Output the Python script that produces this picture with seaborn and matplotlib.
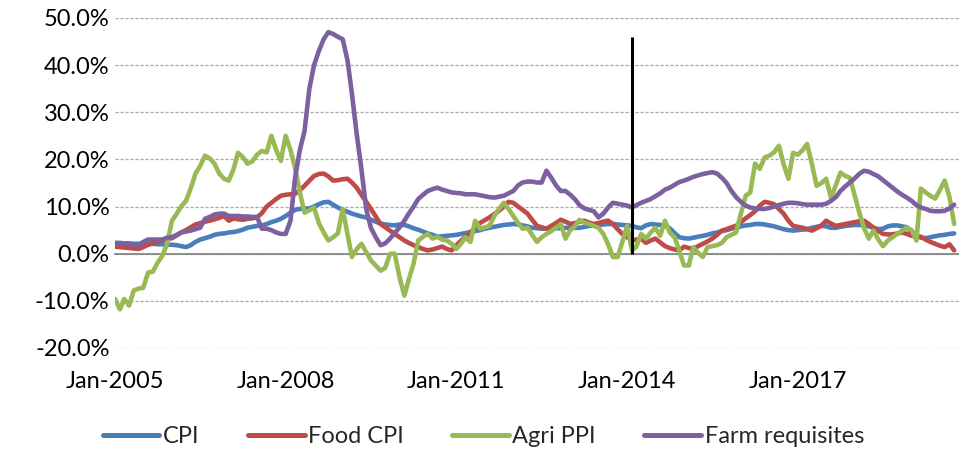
import matplotlib
matplotlib.use("Agg")
import matplotlib.pyplot as plt
import matplotlib.dates as mdates
from matplotlib.ticker import FuncFormatter, MultipleLocator
import pandas as pd
import seaborn as sns

# monthly inflation rates (%), Jan-2005 .. Oct-2019
start_month = "2005-01-01"

cpi = [
    2.3, 2.3, 2.2, 2.2, 2.1, 2.1, 2.0, 2.0, 2.1, 2.0, 2.0, 1.9,
    1.9, 1.8, 1.6, 1.4, 1.8, 2.5, 3.0, 3.3, 3.6, 4.0, 4.2, 4.3,
    4.5, 4.6, 4.8, 5.1, 5.5, 5.7, 5.9, 6.0, 6.3, 6.7, 7.0, 7.4,
    8.0, 8.7, 9.3, 9.5, 9.6, 9.6, 10.0, 10.5, 10.9, 11.0, 10.4, 9.8,
    9.3, 8.9, 8.5, 8.2, 7.9, 7.7, 7.2, 6.8, 6.4, 6.2, 6.1, 6.0,
    6.2, 6.1, 5.8, 5.4, 5.1, 4.7, 4.3, 4.0, 3.6, 3.7, 3.8, 3.9,
    4.0, 4.2, 4.4, 4.6, 4.8, 5.0, 5.3, 5.5, 5.7, 5.9, 6.1, 6.2,
    6.3, 6.2, 6.0, 5.8, 5.5, 5.4, 5.3, 5.3, 5.3, 5.4, 5.4, 5.5,
    5.5, 5.5, 5.5, 5.7, 5.9, 6.0, 6.1, 6.2, 6.3, 6.3, 6.2, 6.1,
    6.0, 5.9, 5.6, 5.4, 6.0, 6.3, 6.2, 6.1, 6.0, 5.4, 4.4, 3.5,
    3.3, 3.2, 3.4, 3.6, 3.8, 4.0, 4.3, 4.5, 4.8, 5.0, 5.3, 5.5,
    5.8, 6.0, 6.1, 6.3, 6.3, 6.2, 6.0, 5.8, 5.5, 5.2, 5.0, 4.9,
    5.0, 5.1, 5.2, 5.5, 5.7, 5.9, 5.8, 5.5, 5.5, 5.7, 5.9, 6.0,
    6.1, 6.1, 6.0, 5.8, 5.5, 5.2, 5.3, 5.8, 6.0, 6.0, 5.8, 5.6,
    4.6, 3.8, 3.4, 3.3, 3.5, 3.7, 3.9, 4.0, 4.2, 4.3,
]

food_cpi = [
    1.5, 1.4, 1.3, 1.2, 1.1, 1.0, 1.4, 1.9, 2.3, 2.6, 2.9, 3.1,
    3.3, 3.9, 4.5, 5.0, 5.6, 6.2, 6.5, 6.8, 7.0, 7.3, 7.6, 8.0,
    7.0, 7.5, 7.3, 7.2, 7.4, 7.5, 7.7, 8.6, 10.0, 10.8, 11.6, 12.3,
    12.5, 12.6, 12.7, 13.5, 14.4, 15.5, 16.5, 16.9, 17.0, 16.4, 15.5, 15.6,
    15.8, 15.9, 15.1, 14.0, 12.5, 11.0, 9.5, 7.9, 6.3, 5.6, 4.9, 4.2,
    3.5, 2.8, 2.3, 1.8, 1.4, 1.0, 0.7, 0.9, 1.2, 1.5, 1.0, 0.7,
    1.8, 2.8, 3.6, 4.5, 5.5, 6.5, 7.1, 7.7, 8.4, 9.1, 10.0, 11.0,
    10.8, 10.0, 9.3, 8.5, 7.2, 5.9, 5.6, 5.3, 5.9, 6.5, 7.2, 6.8,
    6.3, 6.5, 6.8, 7.0, 6.6, 6.3, 6.5, 6.8, 7.0, 6.3, 5.2, 4.2,
    3.5, 2.8, 3.0, 3.2, 2.3, 2.8, 3.2, 2.4, 1.6, 1.2, 0.9, 0.7,
    1.5, 1.2, 1.0, 1.6, 2.1, 2.6, 3.2, 4.0, 4.9, 5.2, 5.6, 5.9,
    6.7, 7.5, 8.2, 9.0, 10.2, 11.0, 10.8, 10.5, 9.5, 8.5, 7.0, 5.9,
    5.7, 5.5, 5.2, 4.9, 5.4, 6.0, 7.0, 6.4, 5.9, 6.1, 6.3, 6.5,
    6.7, 6.9, 7.0, 6.3, 5.5, 4.8, 4.2, 4.1, 4.1, 4.3, 4.5, 4.2,
    3.8, 3.7, 3.6, 3.0, 2.5, 2.1, 1.7, 1.4, 2.0, 0.7,
]

agri_ppi = [
    -9.6, -11.8, -9.6, -11.0, -7.8, -7.4, -7.2, -4.0, -3.8, -1.9, -0.4, 2.1,
    7.0, 8.5, 10.0, 11.2, 13.8, 17.0, 18.6, 20.8, 20.2, 19.1, 17.0, 15.9,
    15.5, 18.0, 21.4, 20.5, 19.1, 19.6, 21.0, 21.8, 21.5, 25.0, 22.0, 19.7,
    25.0, 22.0, 18.2, 13.0, 8.7, 9.2, 9.8, 6.5, 4.5, 2.8, 3.5, 4.3,
    9.5, 4.2, -0.7, 1.0, 2.1, 0.3, -1.4, -2.5, -3.6, -3.0, 0.0, 0.0,
    -5.0, -8.9, -5.5, -2.1, 2.8, 3.6, 4.2, 3.2, 3.6, 3.0, 2.8, 2.1,
    1.0, 2.2, 3.5, 2.5, 7.0, 5.3, 5.6, 5.9, 8.0, 9.5, 10.8, 9.5,
    8.0, 6.5, 5.3, 5.5, 4.0, 2.5, 3.5, 4.2, 4.8, 5.5, 6.3, 3.2,
    5.0, 5.9, 7.2, 6.6, 6.3, 5.9, 5.5, 4.2, 2.0, -0.7, -0.7, 2.5,
    5.9, 0.7, 1.5, 4.2, 3.2, 4.5, 5.5, 3.8, 7.0, 4.5, 3.5, 0.7,
    -2.5, -2.5, 1.4, 0.2, -0.7, 1.4, 1.6, 1.8, 2.3, 3.5, 4.0, 4.5,
    8.5, 12.3, 13.0, 19.1, 18.0, 20.4, 20.8, 21.5, 22.9, 19.0, 15.9, 21.4,
    21.0, 22.0, 23.3, 19.0, 14.4, 15.0, 15.9, 11.9, 14.5, 17.2, 16.5, 16.1,
    12.3, 8.5, 5.5, 3.2, 4.9, 3.0, 1.6, 2.8, 3.5, 4.2, 4.9, 5.5,
    5.0, 2.8, 13.8, 13.0, 12.3, 11.7, 13.5, 15.5, 12.0, 6.3,
]

farm_requisites = [
    2.1, 2.1, 2.1, 2.1, 1.8, 1.8, 2.5, 3.0, 3.0, 3.0, 3.0, 3.4,
    3.5, 4.0, 4.5, 4.7, 4.9, 5.2, 5.5, 7.4, 7.8, 8.3, 8.5, 8.5,
    8.0, 8.0, 8.0, 7.9, 7.9, 7.8, 7.8, 5.3, 5.3, 5.0, 4.5, 4.2,
    4.2, 7.0, 16.0, 22.0, 26.0, 35.0, 40.0, 43.0, 45.5, 47.0, 46.6, 46.0,
    45.5, 41.0, 34.0, 25.4, 18.0, 9.5, 5.5, 3.5, 1.8, 2.2, 3.2, 4.4,
    5.6, 7.0, 8.5, 10.0, 11.6, 12.5, 13.3, 13.7, 14.0, 13.6, 13.3, 13.0,
    12.9, 12.8, 12.6, 12.6, 12.6, 12.4, 12.2, 12.0, 11.9, 12.1, 12.3, 12.8,
    13.3, 14.5, 15.1, 15.3, 15.3, 15.1, 15.1, 17.6, 16.1, 14.5, 13.3, 13.3,
    12.5, 11.5, 10.3, 9.6, 9.3, 9.0, 7.7, 8.5, 9.8, 10.8, 10.6, 10.4,
    10.2, 9.8, 10.3, 10.8, 11.2, 11.6, 12.2, 12.8, 13.6, 14.0, 14.6, 15.2,
    15.5, 15.9, 16.3, 16.6, 16.9, 17.1, 17.3, 17.0, 16.1, 15.0, 13.3, 12.0,
    11.0, 10.2, 9.8, 9.6, 9.5, 9.5, 9.7, 10.0, 10.3, 10.6, 10.8, 10.8,
    10.7, 10.5, 10.4, 10.4, 10.4, 10.4, 10.6, 11.2, 12.0, 13.3, 14.3, 15.1,
    16.0, 17.0, 17.6, 17.4, 16.9, 16.4, 15.6, 14.8, 14.0, 13.2, 12.5, 11.9,
    11.2, 10.3, 9.8, 9.5, 9.1, 9.0, 9.0, 9.1, 9.6, 10.4,
]

series_names = ["CPI", "Food CPI", "Agri PPI", "Farm requisites"]
series_colors = ["#4A7EBB", "#BE4B48", "#98B954", "#7D60A0"]
label_years = [2005, 2008, 2011, 2014, 2017]

# vertical marker line
marker_month = "2014-02-01"
marker_top = 46.0

months = pd.date_range(start_month, periods=len(cpi), freq="MS")
df = pd.DataFrame({
    "Month": months,
    "CPI": cpi,
    "Food CPI": food_cpi,
    "Agri PPI": agri_ppi,
    "Farm requisites": farm_requisites,
})
long_df = df.melt(id_vars="Month", var_name="Series", value_name="Value")

sns.set_style("white")
plt.rcParams["font.family"] = ["Lato", "DejaVu Sans"]
font_size = 17

fig = plt.figure(figsize=(9.59, 4.5), dpi=100)
ax = fig.add_axes([0.12, 0.2267, 0.88, 0.7333])

sns.lineplot(data=long_df, x="Month", y="Value", hue="Series",
             hue_order=series_names, palette=dict(zip(series_names, series_colors)),
             linewidth=3.3, ax=ax, errorbar=None)

leg = ax.get_legend()
handles = leg.legend_handles
labels = [t.get_text() for t in leg.get_texts()]
leg.remove()
for h in handles:
    h.set_linewidth(3.6)

ax.vlines(pd.Timestamp(marker_month), 0, marker_top, color="black", linewidth=2.2, zorder=5)

ax.set_ylim(-20, 50)
ax.set_xlim(months[0], months[-1] + pd.DateOffset(months=1))
ax.yaxis.set_major_locator(MultipleLocator(10))
ax.yaxis.set_major_formatter(FuncFormatter(lambda v, p: f"{v:.1f}%"))
ax.yaxis.grid(True, linestyle=(0, (2.5, 1.5)), color="#A6A6A6", linewidth=0.9)
ax.set_axisbelow(True)

for side in ["left", "top", "right"]:
    ax.spines[side].set_visible(False)
ax.spines["bottom"].set_position(("data", 0))
ax.spines["bottom"].set_color("#868686")
ax.spines["bottom"].set_linewidth(1.3)
ax.spines["bottom"].set_zorder(1)

ax.xaxis.set_major_locator(mdates.YearLocator(1))
ax.tick_params(axis="x", direction="out", length=7, width=1.2, color="#868686",
               labelbottom=False)
ax.tick_params(axis="y", length=0, pad=4, labelsize=font_size, labelcolor="black")
ax.set_xlabel("")
ax.set_ylabel("")

for yr in label_years:
    ax.text(pd.Timestamp(f"{yr}-01-01"), -0.103, f"Jan-{yr}",
            transform=ax.get_xaxis_transform(), ha="center", va="center",
            fontsize=font_size, color="black")

fig.legend(handles, labels, loc="center", bbox_to_anchor=(0.504, 0.029), ncol=4,
           frameon=False, handlelength=2.4, handletextpad=0.15, columnspacing=2.05,
           fontsize=font_size)

fig.savefig("out.png", dpi=100)
